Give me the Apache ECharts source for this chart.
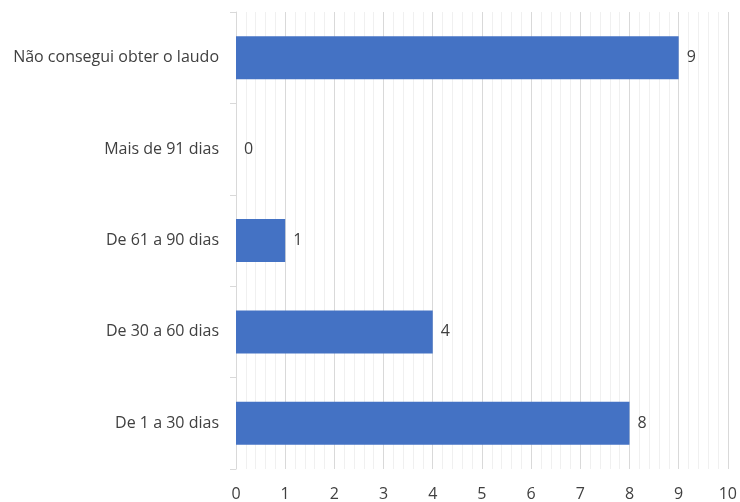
<!DOCTYPE html>
<html>
<head>
<meta charset="utf-8">
<script src="https://cdn.jsdelivr.net/npm/echarts@6/dist/echarts.min.js"></script>
<style>
html,body{margin:0;padding:0;background:#fff;}
#chart{width:740px;height:502px;}
</style>
</head>
<body>
<div id="chart"></div>
<script>
// Categories listed bottom to top (category axis starts at the bottom)
const categories = ['De 1 a 30 dias', 'De 30 a 60 dias', 'De 61 a 90 dias', 'Mais de 91 dias', 'Não consegui obter o laudo'];
const counts = [8, 4, 1, 0, 9];
const xTicks = [0, 10, 1];

const chart = echarts.init(document.getElementById('chart'), null, {renderer: 'canvas'});
const textColor = '#404040';
const font = '"Open Sans", "Noto Sans", sans-serif';
const fontSize = 16;

chart.setOption({
  animation: false,
  grid: {left: 236, right: 12, top: 12, bottom: 32, containLabel: false},
  xAxis: {
    type: 'value',
    min: xTicks[0],
    max: xTicks[1],
    interval: xTicks[2],
    axisLine: {show: false},
    axisTick: {show: false},
    axisLabel: {color: textColor, fontSize: fontSize, fontFamily: font, margin: 17},
    splitLine: {show: true, lineStyle: {color: '#d9d9d9', width: 1}},
    minorTick: {show: false, splitNumber: 5},
    minorSplitLine: {show: true, lineStyle: {color: '#f0f0f0', width: 1}}
  },
  yAxis: {
    type: 'category',
    data: categories,
    axisLine: {show: true, lineStyle: {color: '#d9d9d9'}},
    axisTick: {show: true, length: 6, lineStyle: {color: '#d9d9d9'}},
    axisLabel: {color: textColor, fontSize: fontSize, fontFamily: font, margin: 17}
  },
  series: [{
    type: 'bar',
    data: counts,
    barCategoryGap: '53%',
    itemStyle: {color: '#4472c4'},
    label: {
      show: true,
      position: 'right',
      distance: 8,
      color: textColor,
      fontSize: fontSize,
      fontFamily: font
    }
  }]
});
</script>
</body>
</html>
